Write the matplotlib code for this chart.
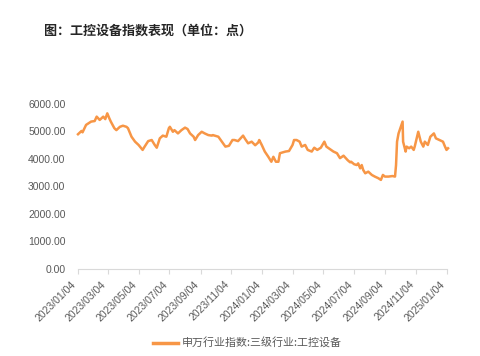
import matplotlib
matplotlib.use("Agg")
import matplotlib.pyplot as plt
import matplotlib.dates as mdates
import pandas as pd

plt.rcParams['font.family'] = ['Liberation Sans', 'Noto Sans CJK SC', 'DejaVu Sans']

title = "图：工控设备指数表现（单位：点）"
series_name = "申万行业指数:三级行业:工控设备"

dates = [
    "2023-01-04", "2023-01-11", "2023-01-13", "2023-01-20", "2023-01-30", "2023-02-06",
    "2023-02-10", "2023-02-16", "2023-02-23", "2023-02-27", "2023-03-03", "2023-03-07",
    "2023-03-10", "2023-03-17", "2023-03-21", "2023-03-28", "2023-04-03", "2023-04-10",
    "2023-04-13", "2023-04-20", "2023-04-27", "2023-05-04", "2023-05-12", "2023-05-16",
    "2023-05-23", "2023-05-30", "2023-06-05", "2023-06-09", "2023-06-15", "2023-06-21",
    "2023-06-28", "2023-07-03", "2023-07-05", "2023-07-11", "2023-07-14", "2023-07-21",
    "2023-07-28", "2023-08-04", "2023-08-09", "2023-08-14", "2023-08-21", "2023-08-24",
    "2023-08-30", "2023-09-06", "2023-09-12", "2023-09-19", "2023-09-26", "2023-09-28",
    "2023-10-09", "2023-10-16", "2023-10-23", "2023-10-30", "2023-11-06", "2023-11-10",
    "2023-11-17", "2023-11-27", "2023-12-01", "2023-12-07", "2023-12-14", "2023-12-21",
    "2023-12-27", "2023-12-29", "2024-01-03", "2024-01-09", "2024-01-16", "2024-01-22",
    "2024-01-26", "2024-01-31", "2024-02-05", "2024-02-08", "2024-02-19", "2024-02-26",
    "2024-03-04", "2024-03-07", "2024-03-12", "2024-03-18", "2024-03-22", "2024-03-29",
    "2024-04-03", "2024-04-11", "2024-04-16", "2024-04-22", "2024-04-29", "2024-05-06",
    "2024-05-10", "2024-05-17", "2024-05-24", "2024-05-31", "2024-06-06", "2024-06-13",
    "2024-06-21", "2024-06-26", "2024-06-28", "2024-07-04", "2024-07-09", "2024-07-12",
    "2024-07-16", "2024-07-19", "2024-07-22", "2024-07-26", "2024-08-01", "2024-08-08",
    "2024-08-14", "2024-08-21", "2024-08-26", "2024-08-30", "2024-09-03", "2024-09-10",
    "2024-09-18", "2024-09-23", "2024-09-25", "2024-09-27", "2024-09-30", "2024-10-08",
    "2024-10-09", "2024-10-14", "2024-10-16", "2024-10-21", "2024-10-25", "2024-10-30",
    "2024-11-01", "2024-11-05", "2024-11-08", "2024-11-13", "2024-11-18", "2024-11-21",
    "2024-11-27", "2024-12-02", "2024-12-09", "2024-12-13", "2024-12-20", "2024-12-27",
    "2024-12-31", "2025-01-03", "2025-01-06",
]
values = [
    4900, 5020, 4970, 5240, 5360, 5380,
    5540, 5420, 5540, 5450, 5660, 5480,
    5360, 5120, 5050, 5170, 5210, 5170,
    5120, 4810, 4630, 4510, 4330, 4450,
    4650, 4690, 4510, 4410, 4750, 4850,
    4810, 5120, 5170, 4990, 5050, 4930,
    5050, 5140, 5090, 4930, 4810, 4690,
    4870, 4990, 4930, 4870, 4850, 4870,
    4810, 4630, 4450, 4480, 4690, 4690,
    4650, 4850, 4730, 4570, 4630, 4500,
    4600, 4690, 4510, 4270, 4080, 3900,
    4080, 3900, 3900, 4210, 4270, 4290,
    4510, 4690, 4690, 4630, 4450, 4510,
    4330, 4270, 4410, 4330, 4410, 4630,
    4450, 4360, 4270, 4210, 4030, 4120,
    3960, 3880, 3900, 3810, 3780, 3840,
    3660, 3780, 3600, 3480, 3540, 3420,
    3360, 3300, 3240, 3420, 3360, 3360,
    3380, 3360, 3780, 4630, 4930, 5360,
    4630, 4270, 4450, 4390, 4450, 4330,
    4450, 4750, 4990, 4630, 4450, 4630,
    4510, 4810, 4930, 4750, 4690, 4630,
    4450, 4330, 4390,
]
tick_dates = ["2023-01-04", "2023-03-04", "2023-05-04", "2023-07-04", "2023-09-04",
              "2023-11-04", "2024-01-04", "2024-03-04", "2024-05-04", "2024-07-04",
              "2024-09-04", "2024-11-04", "2025-01-04"]
y_ticks = [0, 1000, 2000, 3000, 4000, 5000, 6000]

x = pd.to_datetime(dates)
ticks = pd.to_datetime(tick_dates)

fig = plt.figure(figsize=(4.8, 3.56), dpi=100)
ax = fig.add_axes([0.1625, 0.2444, 0.7688, 0.4635])

line_color = "#F79646"
ax.plot(x, values, color=line_color, linewidth=1.8, label=series_name, clip_on=False,
        solid_joinstyle='round')

ax.set_xlim(ticks[0], ticks[-1])
ax.set_ylim(0, 6000)
ax.set_yticks(y_ticks)
ax.set_yticklabels([f"{v:.2f}" for v in y_ticks])
ax.set_xticks(ticks)
ax.set_xticklabels([d.strftime("%Y/%m/%d") for d in ticks], rotation=45, ha='right',
                   rotation_mode='default')

for s in ['top', 'right', 'left']:
    ax.spines[s].set_visible(False)
ax.spines['bottom'].set_color('#D9D9D9')
ax.spines['bottom'].set_linewidth(0.8)

ax.tick_params(axis='y', length=0, pad=9, labelsize=7.5, labelcolor='#595959')
ax.tick_params(axis='x', length=3.5, width=0.8, color='#D9D9D9', pad=4,
               labelsize=7.5, labelcolor='#595959')

fig.text(0.092, 0.915, title, fontsize=9.4, fontweight='bold', color='#262626',
         family=['Noto Sans CJK SC', 'DejaVu Sans'], ha='left', va='center')

leg = fig.legend(loc='center', bbox_to_anchor=(0.515, 0.036), frameon=False,
                 handlelength=2.3, handletextpad=0.3,
                 prop={'family': ['Noto Sans CJK SC', 'DejaVu Sans'], 'size': 7.9})
for t in leg.get_texts():
    t.set_color('#595959')
for l in leg.get_lines():
    l.set_linewidth(2.5)

fig.savefig("out.png", dpi=100)
